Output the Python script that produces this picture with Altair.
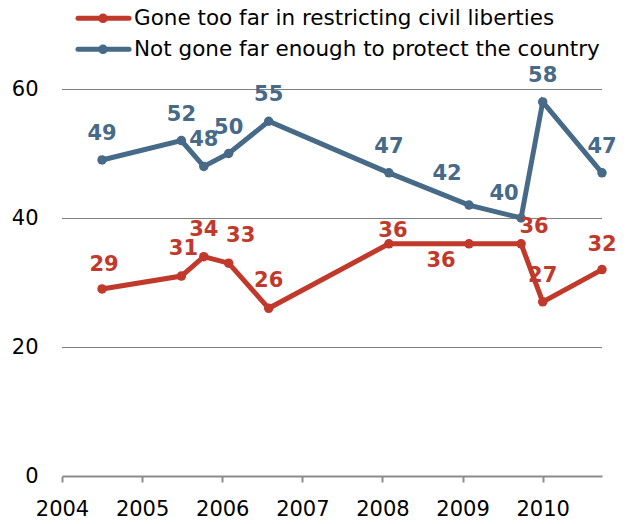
import altair as alt
import pandas as pd

# ---- data ----
dates = [2004.5, 2005.49, 2005.77, 2006.08, 2006.58, 2008.08, 2009.08, 2009.73, 2010.0, 2010.74]
gone_too_far = [29, 31, 34, 33, 26, 36, 36, 36, 27, 32]
not_far_enough = [49, 52, 48, 50, 55, 47, 42, 40, 58, 47]
series = [
    "Gone too far in restricting civil liberties",
    "Not gone far enough to protect the country",
]
year_ticks = [2004, 2005, 2006, 2007, 2008, 2009, 2010]
y_ticks = [0, 20, 40, 60]

colors = ["#C0392B", "#466A87"]
FONT = "DejaVu Sans"

rows = []
for s_i, (name, vals) in enumerate(zip(series, [gone_too_far, not_far_enough])):
    for i, (d, v) in enumerate(zip(dates, vals)):
        rows.append({"series": name, "s": s_i, "i": i, "date": d, "value": v})
df = pd.DataFrame(rows)
legend_df = pd.DataFrame({"series": series})

# label offsets (pixels) for labels that are not simply above their point
label_offsets = {
    (0, 0): (2, -18),
    (0, 1): (2, -21),
    (0, 2): (0, -21),
    (0, 3): (12, -21),
    (0, 4): (0, -21),
    (0, 5): (4, -7),
    (0, 6): (-28, 23),
    (0, 7): (13, -11),
    (0, 9): (0, -19),
    (1, 6): (-22, -25),
    (1, 7): (-17, -18),
}

color_enc = alt.Color(
    "series:N", scale=alt.Scale(domain=series, range=colors), legend=None
)
x_enc = alt.X(
    "date:Q",
    scale=alt.Scale(domain=[2004, 2010.74], nice=False, zero=False),
    axis=alt.Axis(
        values=year_ticks,
        format="d",
        title=None,
        grid=False,
        domainColor="#8c8c8c",
        domainWidth=2,
        tickColor="#8c8c8c",
        tickWidth=2,
        tickSize=6,
        labelFont=FONT,
        labelFontSize=21,
        labelColor="#000000",
        labelPadding=16,
        labelFlush=False,
    ),
)
y_enc = alt.Y(
    "value:Q",
    scale=alt.Scale(domain=[0, 60], nice=False),
    axis=alt.Axis(
        values=y_ticks,
        title=None,
        domain=False,
        ticks=False,
        tickSize=0,
        grid=True,
        gridColor="#000000",
        gridDash=[1, 1],
        gridWidth=1,
        gridOpacity={"condition": {"test": "datum.value === 0", "value": 0}, "value": 1},
        labelFont=FONT,
        labelFontSize=21,
        labelColor="#000000",
        labelPadding=24,
    ),
)

base = alt.Chart(df).encode(x=x_enc, y=y_enc, color=color_enc)
lines = base.mark_line(strokeWidth=5, clip=False).encode(detail="series:N")
points = base.mark_circle(size=90, opacity=1)

label_layers = []
exc_tests = " || ".join(
    f"(datum.s == {s} && datum.i == {i})" for (s, i) in label_offsets
)
label_layers.append(
    base.mark_text(
        font=FONT, fontSize=21, fontWeight="bold", baseline="alphabetic",
        align="center", dy=-20,
    )
    .encode(text="value:Q")
    .transform_filter(f"!({exc_tests})")
)
for (s, i), (dx, dy) in label_offsets.items():
    label_layers.append(
        base.mark_text(
            font=FONT, fontSize=21, fontWeight="bold", baseline="alphabetic",
            align="center", dx=dx, dy=dy,
        )
        .encode(text="value:Q")
        .transform_filter(f"datum.s == {s} && datum.i == {i}")
    )

main = alt.layer(lines, points, *label_layers)

# ---- legend ----
leg_y = alt.Y(
    "series:N",
    axis=None,
    scale=alt.Scale(type="point", domain=series, range=[-70.7, -39.7], padding=0),
)
leg_base = alt.Chart(legend_df).encode(y=leg_y)
leg_rule = leg_base.mark_rule(strokeWidth=5, strokeCap="round").encode(
    x=alt.value(16), x2=alt.value(67), color=color_enc
)
leg_dot = leg_base.mark_circle(size=90, opacity=1).encode(
    x=alt.value(41), color=color_enc
)
leg_text = leg_base.mark_text(
    font=FONT, fontSize=21.5, align="left", baseline="middle", dy=1
).encode(x=alt.value(72), text="series:N", color=alt.value("#000000"))
legend = alt.layer(leg_rule, leg_dot, leg_text)

chart = (
    alt.layer(main, legend)
    .resolve_scale(y="independent")
    .properties(
        width=540,
        height=387,
        autosize=alt.AutoSizeParams(type="none"),
        padding={"left": 62, "top": 89, "right": 25, "bottom": 48},
        background="#ffffff",
    )
    .configure_view(stroke=None)
)

chart.save("out.html", embed_options={"renderer": "svg", "actions": False})
